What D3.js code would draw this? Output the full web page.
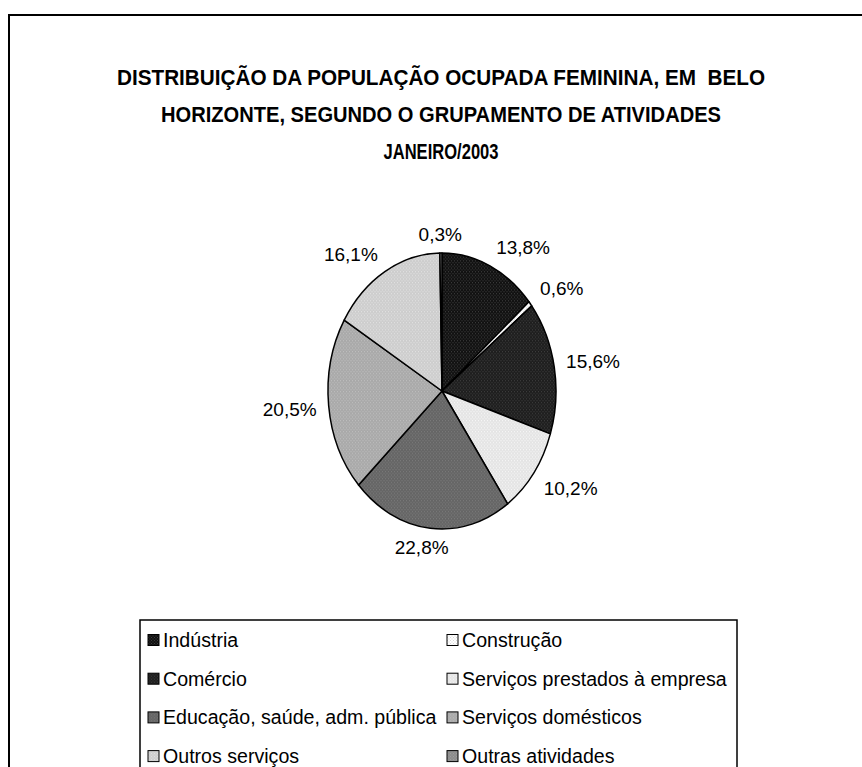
<!DOCTYPE html>
<html>
<head>
<meta charset="utf-8">
<script src="https://cdn.jsdelivr.net/npm/d3@7"></script>
<style>
  html, body { margin: 0; padding: 0; background: #fff; }
  svg { display: block; font-family: "Liberation Sans", Arial, sans-serif; }
  .title text { white-space: pre; }
</style>
</head>
<body>
<div id="chart"></div>
<script>
// dados do gráfico (PED-RMBH, jan/2003)
var categories = [
    "Indústria",
    "Construção",
    "Comércio",
    "Serviços prestados à empresa",
    "Educação, saúde, adm. pública",
    "Serviços domésticos",
    "Outros serviços",
    "Outras atividades"
];
var shares = [13.8, 0.6, 15.6, 10.2, 22.8, 20.5, 16.1, 0.3];

var titleLines = [
    "DISTRIBUIÇÃO DA POPULAÇÃO OCUPADA FEMININA, EM  BELO",
    "HORIZONTE, SEGUNDO O GRUPAMENTO DE ATIVIDADES",
    "JANEIRO/2003"
];
// largura de cada linha do título no original (fonte condensada)
var titleWidths = [648, 560, 115];

// fundo e pontilhado de cada fatia (imita as texturas do Excel)
var fills = ["#111111", "#ffffff", "#1e1e1e", "#e4e4e4", "#656565", "#a9a9a9", "#cdcdcd", "#8c8c8c"];
var dots  = ["#3a3a3a", "#d8d8d8", "#3c3c3c", "#f6f6f6", "#7a7a7a", "#bdbdbd", "#e0e0e0", "#a0a0a0"];

var width = 862, height = 767;
var cx = 442, cy = 391, rx = 114, ry = 138;

var svg = d3.select("#chart").append("svg")
    .attr("width", width)
    .attr("height", height);

var defs = svg.append("defs");
categories.forEach(function(c, i) {
    var p = defs.append("pattern")
        .attr("id", "pat" + i)
        .attr("patternUnits", "userSpaceOnUse")
        .attr("width", 3)
        .attr("height", 3);
    p.append("rect").attr("width", 3).attr("height", 3).attr("fill", fills[i]);
    p.append("rect").attr("width", 1).attr("height", 1).attr("fill", dots[i]);
    p.append("rect").attr("x", 1.5).attr("y", 1.5).attr("width", 1).attr("height", 1).attr("fill", dots[i]);
});

// moldura
svg.append("rect")
    .attr("x", 9).attr("y", 15)
    .attr("width", width).attr("height", height)
    .attr("fill", "none")
    .attr("stroke", "#000")
    .attr("stroke-width", 2);

// título
svg.append("g")
    .attr("class", "title")
    .attr("font-weight", "bold")
    .attr("font-size", "22px")
    .attr("text-anchor", "middle")
    .selectAll("text")
    .data(titleLines)
    .join("text")
        .attr("x", 441)
        .attr("y", (d, i) => 85 + i * 37)
        .attr("textLength", (d, i) => titleWidths[i])
        .attr("lengthAdjust", "spacingAndGlyphs")
        .text(d => d);

// pizza (círculo achatado em elipse)
var pie = d3.pie().sort(null).value(d => d)(shares);
var arc = d3.arc().innerRadius(0).outerRadius(rx);

svg.append("g")
    .attr("transform", `translate(${cx},${cy}) scale(1,${ry / rx})`)
    .selectAll("path")
    .data(pie)
    .join("path")
        .attr("d", arc)
        .attr("fill", (d, i) => `url(#pat${i})`)
        .attr("stroke", "#000")
        .attr("stroke-width", 1.5)
        .attr("stroke-linejoin", "round")
        .attr("vector-effect", "non-scaling-stroke");

// rótulos de porcentagem fora da pizza
var fmt = v => v.toFixed(1).replace(".", ",") + "%";
var clamp = v => Math.max(-1, Math.min(1, v));
var gap = 10, boxH = 18;

var labels = svg.append("g")
    .attr("font-size", "19px")
    .attr("text-anchor", "middle")
    .selectAll("text")
    .data(pie)
    .join("text")
        .attr("dy", "0.35em")
        .text(d => fmt(d.data));

labels.each(function(d) {
    var a = (d.startAngle + d.endAngle) / 2;
    var s = Math.sin(a), c = Math.cos(a);
    var w = this.getComputedTextLength() + 4;
    var x = cx + s * rx + s * gap + w / 2 * clamp(s * 2.5);
    var y = cy - c * ry - c * gap - boxH / 2 * clamp(c * 2.5);
    d3.select(this).attr("x", x).attr("y", y);
});

// legenda
var legX = 140, legY = 620, legW = 597, rowH = 38.7, colW = 299;

svg.append("rect")
    .attr("x", legX).attr("y", legY)
    .attr("width", legW).attr("height", 200)
    .attr("fill", "#fff")
    .attr("stroke", "#000")
    .attr("stroke-width", 1.5);

var item = svg.append("g")
    .selectAll("g")
    .data(categories)
    .join("g")
        .attr("transform", (d, i) => `translate(${legX + 8 + (i % 2) * colW},${legY + 20 + Math.floor(i / 2) * rowH})`);

item.append("rect")
    .attr("x", 0).attr("y", -5.5)
    .attr("width", 11).attr("height", 11)
    .attr("fill", (d, i) => `url(#pat${i})`)
    .attr("stroke", "#000")
    .attr("stroke-width", 1);

item.append("text")
    .attr("x", 15)
    .attr("dy", "0.36em")
    .attr("font-size", "19.6px")
    .text(d => d);
</script>
</body>
</html>
